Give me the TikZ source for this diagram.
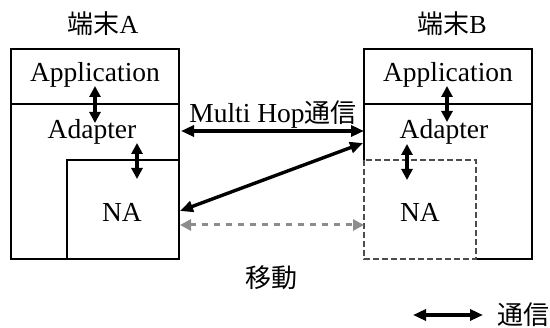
\documentclass[tikz,border=0pt]{standalone}
\usepackage{fontspec}
\setmainfont{Liberation Serif}
\newfontfamily\cjk{Noto Sans CJK JP}
\usetikzlibrary{arrows.meta}
\begin{document}
\begin{tikzpicture}[x=1pt,y=-1pt,
  box/.style={draw=black,line width=1.1pt},
  nabox/.style={draw=black!70,line width=1.1pt,dash pattern=on 6pt off 3pt},
  lbl/.style={font=\fontsize{27.5}{30}\selectfont,inner sep=0pt,anchor=base},
  cjklbl/.style={font=\fontsize{26}{28}\selectfont\cjk,inner sep=0pt},
  comm/.style={line width=3.4pt,{Triangle[length=13pt,width=11pt]}-{Triangle[length=13pt,width=11pt]}},
  vcomm/.style={line width=3.2pt,{Triangle[length=11pt,width=11pt]}-{Triangle[length=11pt,width=11pt]}},
  move/.style={draw=black!45,line width=3pt,dash pattern=on 6pt off 6pt,{Triangle[length=11pt,width=11pt,fill=black!45]}-{Triangle[length=11pt,width=11pt,fill=black!45]}}]
\useasboundingbox (0,0) rectangle (550,328);
% terminal A
\draw[box] (11,49) rectangle (179,259);
\draw[box] (11,104) -- (179,104);
\draw[box] (67,259) -- (67,160) -- (179,160);
% terminal B
\draw[box] (364,160) -- (364,49) -- (532,49) -- (532,259) -- (476,259);
\draw[box] (364,104) -- (532,104);
\draw[nabox] (364,160) rectangle (476,259);
% labels
\node[cjklbl] (tA) at (103,24) {端末\fontspec{Liberation Serif}A};
\node[cjklbl] (tB) at (452,24) {端末\fontspec{Liberation Serif}B};
\node[lbl] (appA) at (95,82) {Application};
\node[lbl] (appB) at (448,82) {Application};
\node[lbl] (adA) at (92,139) {Adapter};
\node[lbl] (adB) at (444,139) {Adapter};
\node[lbl] (naA) at (122,222) {NA};
\node[lbl] (naB) at (420,222) {NA};
\node[lbl] (mh) at (273,123) {Multi Hop{\cjk\fontsize{26}{28}\selectfont 通信}};
\node[cjklbl] (mv) at (271,278) {移動};
\node[cjklbl,anchor=west] (leg) at (497,315) {通信};
% arrow endpoints
\coordinate (a1t) at (95,86); \coordinate (a1b) at (95,123);
\coordinate (a2t) at (137,143); \coordinate (a2b) at (137,179);
\coordinate (b1t) at (447,86); \coordinate (b1b) at (447,122);
\coordinate (b2t) at (407,144); \coordinate (b2b) at (407,180);
\coordinate (mhA) at (181,131); \coordinate (mhB) at (364,131);
\coordinate (dA) at (180,211); \coordinate (dB) at (363,143);
\coordinate (gA) at (180,225); \coordinate (gB) at (364,225);
\coordinate (l1) at (413,315); \coordinate (l2) at (483,315);
% arrows
\draw[vcomm] (a1t) -- (a1b);
\draw[vcomm] (a2t) -- (a2b);
\draw[vcomm] (b1t) -- (b1b);
\draw[vcomm] (b2t) -- (b2b);
\draw[comm] (mhA) -- (mhB);
\draw[comm] (dA) -- (dB);
\draw[move] (gA) -- (gB);
\draw[comm] (l1) -- (l2);
\end{tikzpicture}
\end{document}
